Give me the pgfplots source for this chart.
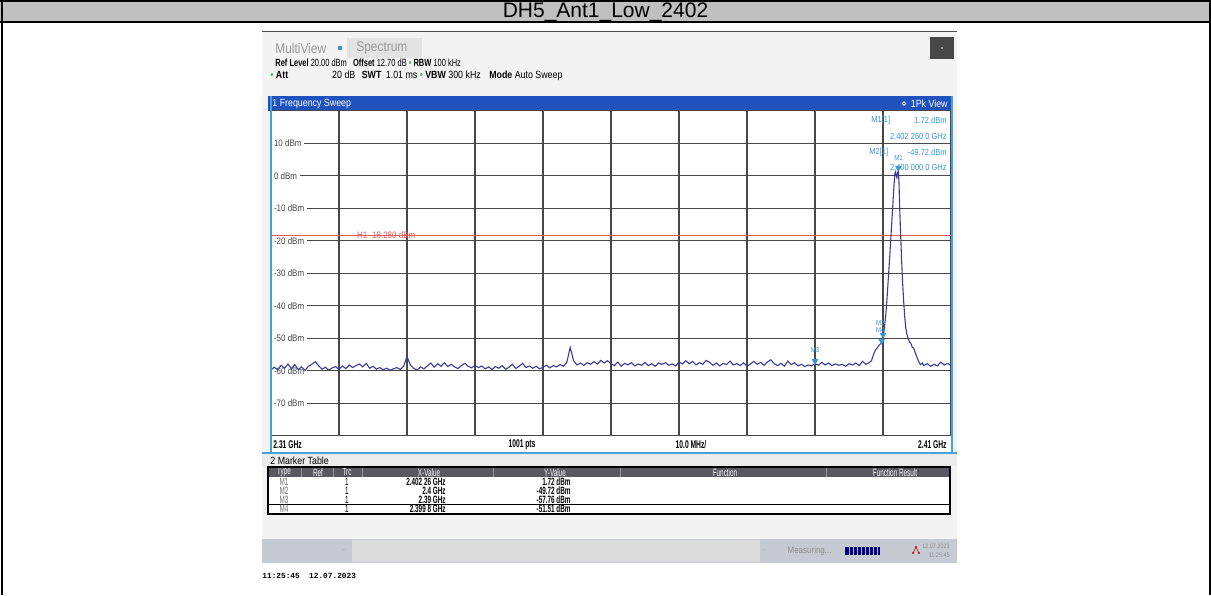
\documentclass[border=0pt]{standalone}
\usepackage{fontspec}
\setmainfont{Liberation Sans}
\newfontfamily\rsA[FakeStretch=0.85]{Liberation Sans}
\newfontfamily\rsB[FakeStretch=0.72]{Liberation Sans}
\newfontfamily\rsC[FakeStretch=0.6]{Liberation Sans}
\newfontfamily\rsmono{Liberation Mono}
\usepackage{pgfplots}
\usepackage{pgfplotstable}
\pgfplotsset{compat=1.18}

\definecolor{titlegray}{RGB}{192,192,192}
\definecolor{shotbg}{RGB}{243,243,243}
\definecolor{barblue}{RGB}{32,82,190}
\definecolor{edgeblue}{RGB}{70,160,220}
\definecolor{gridgray}{RGB}{72,72,72}
\definecolor{tracecol}{RGB}{60,60,155}
\definecolor{mkcol}{RGB}{55,150,210}
\definecolor{hred}{RGB}{228,90,90}
\definecolor{hdrgray}{RGB}{88,88,94}
\definecolor{statgray}{RGB}{198,202,210}
\definecolor{labgray}{RGB}{70,70,70}
\definecolor{softgray}{RGB}{150,150,150}
\definecolor{dotgreen}{RGB}{70,175,95}

\newcommand\hdr{\rsA\fontsize{5.2}{6}\selectfont}
\newcommand\lab{\rsA\fontsize{4.7}{5.5}\selectfont}
\newcommand\mk{\rsA\fontsize{4.4}{5}\selectfont}
\newcommand\cnd{\rsC\fontsize{5.3}{6.2}\selectfont}
\newcommand\gdot{\textcolor{dotgreen}{\textbullet}}

% trace 1, frequency in MHz, level in dBm
\pgfplotstableread{
f p
2310.0 -59.6
2310.5 -58.9
2311.0 -59.7
2311.5 -58.3
2312.0 -59.2
2312.5 -57.9
2313.0 -59.4
2313.5 -58.1
2314.0 -59.6
2314.5 -58.8
2315.0 -59.9
2315.5 -58.6
2316.0 -58.0
2316.5 -57.2
2317.0 -58.4
2317.5 -59.5
2318.0 -58.9
2318.5 -59.8
2319.0 -59.1
2319.5 -58.7
2320.0 -59.6
2320.5 -58.5
2321.0 -59.3
2321.5 -58.2
2322.0 -59.0
2322.5 -58.4
2323.0 -57.9
2323.5 -58.8
2324.0 -57.7
2324.5 -59.2
2325.0 -58.6
2325.5 -59.5
2326.0 -59.0
2326.5 -59.7
2327.0 -59.2
2327.5 -59.8
2328.0 -59.4
2328.5 -59.0
2329.0 -59.6
2329.5 -58.6
2330.0 -55.6
2330.5 -58.2
2331.0 -59.3
2331.5 -59.7
2332.0 -58.8
2332.5 -59.4
2333.0 -58.5
2333.5 -57.6
2334.0 -58.9
2334.5 -57.8
2335.0 -58.6
2335.5 -57.5
2336.0 -58.7
2336.5 -58.0
2337.0 -58.8
2337.5 -59.3
2338.0 -58.4
2338.5 -57.7
2339.0 -58.6
2339.5 -59.1
2340.0 -58.3
2340.5 -59.0
2341.0 -58.5
2341.5 -59.4
2342.0 -58.8
2342.5 -59.6
2343.0 -58.7
2343.5 -59.2
2344.0 -58.4
2344.5 -59.5
2345.0 -58.9
2345.5 -58.0
2346.0 -59.3
2346.5 -58.6
2347.0 -57.7
2347.5 -59.0
2348.0 -58.5
2348.5 -59.2
2349.0 -58.6
2349.5 -59.4
2350.0 -58.9
2350.5 -58.3
2351.0 -59.1
2351.5 -58.4
2352.0 -58.8
2352.5 -58.1
2353.0 -58.6
2353.5 -57.4
2354.0 -52.8
2354.5 -56.9
2355.0 -58.2
2355.5 -57.6
2356.0 -58.3
2356.5 -57.5
2357.0 -58.0
2357.5 -57.2
2358.0 -57.9
2358.5 -56.8
2359.0 -57.6
2359.5 -56.9
2360.0 -57.8
2360.5 -58.4
2361.0 -57.3
2361.5 -58.6
2362.0 -57.7
2362.5 -58.2
2363.0 -57.5
2363.5 -58.5
2364.0 -57.9
2364.5 -58.3
2365.0 -57.4
2365.5 -58.4
2366.0 -57.8
2366.5 -58.6
2367.0 -57.6
2367.5 -58.0
2368.0 -57.5
2368.5 -58.3
2369.0 -57.9
2369.5 -58.5
2370.0 -57.3
2370.5 -57.9
2371.0 -56.9
2371.5 -57.8
2372.0 -57.1
2372.5 -58.2
2373.0 -57.5
2373.5 -58.0
2374.0 -56.8
2374.5 -57.4
2375.0 -58.3
2375.5 -57.6
2376.0 -58.5
2376.5 -57.7
2377.0 -58.1
2377.5 -57.0
2378.0 -58.2
2378.5 -57.8
2379.0 -58.4
2379.5 -57.5
2380.0 -58.6
2380.5 -57.9
2381.0 -57.1
2381.5 -58.0
2382.0 -57.4
2382.5 -58.3
2383.0 -57.3
2383.5 -56.6
2384.0 -57.8
2384.5 -58.4
2385.0 -57.7
2385.5 -58.6
2386.0 -57.0
2386.5 -58.1
2387.0 -57.5
2387.5 -58.5
2388.0 -58.0
2388.5 -58.7
2389.0 -58.2
2389.5 -58.5
2390.0 -57.76
2390.5 -58.3
2391.0 -57.4
2391.5 -58.2
2392.0 -57.6
2392.5 -58.4
2393.0 -57.9
2393.5 -58.3
2394.0 -58.0
2394.5 -58.6
2395.0 -57.8
2395.5 -58.2
2396.0 -57.6
2396.5 -58.4
2397.0 -57.1
2397.5 -58.0
2398.0 -57.4
2398.3 -56.9
2398.6 -55.0
2398.9 -53.6
2399.2 -52.8
2399.5 -51.9
2399.8 -51.51
2400.0 -49.72
2400.2 -47.0
2400.4 -43.0
2400.6 -37.5
2400.8 -31.0
2401.0 -24.5
2401.2 -17.5
2401.4 -10.5
2401.6 -3.5
2401.75 0.8
2401.85 1.2
2401.95 0.0
2402.05 -0.6
2402.15 0.9
2402.26 1.72
2402.35 -2.0
2402.45 -9.5
2402.6 -18.5
2402.75 -26.5
2402.9 -33.5
2403.05 -39.0
2403.2 -43.5
2403.35 -46.8
2403.5 -48.6
2403.7 -50.0
2403.9 -51.2
2404.1 -51.6
2404.3 -52.7
2404.5 -53.0
2404.7 -54.2
2404.9 -55.3
2405.2 -57.0
2405.5 -58.1
2405.8 -57.6
2406.0 -58.4
2406.5 -57.8
2407.0 -58.6
2407.5 -58.0
2408.0 -58.5
2408.5 -57.3
2409.0 -58.2
2409.5 -57.7
2410.0 -58.4
}\tracedata

\begin{document}
\begin{tikzpicture}
\begin{scope}[x=0.5pt,y=-0.5pt]
  \useasboundingbox (0,0) rectangle (1211,595);
  \fill[white] (0,0) rectangle (1211,595);
  % title bar
  \fill[titlegray] (0,0) rectangle (1211,22);
  \draw[black,line width=1pt] (0,1) -- (1211,1);
  \draw[black,line width=1pt] (0,22) -- (1211,22);
  \draw[black,line width=1pt] (1.5,0) -- (1.5,595);
  \draw[black,line width=1pt] (1209.5,0) -- (1209.5,595);
  \node[anchor=base,font=\fontsize{10.5}{12}\selectfont,inner sep=0pt] at (605.5,17.2) {DH5\_Ant1\_Low\_2402};
  % screenshot background
  \fill[shotbg] (262,31) rectangle (957,563);
  \fill[black!70] (262,31) rectangle (957,32);
  % tabs
  \node[anchor=west,font=\rsA\fontsize{7}{8}\selectfont,text=softgray,inner sep=0pt] at (275,48) {MultiView};
  \fill[mkcol] (338,46) rectangle (342,50);
  \fill[black!11] (347,38) rectangle (422,58);
  \node[anchor=west,font=\rsA\fontsize{7}{8}\selectfont,text=softgray,inner sep=0pt] at (356,48) {Spectrum};
  \fill[black!72] (930,37) rectangle (954,59);
  \fill[white] (942,48) circle (0.8);
  % settings rows
  \node[anchor=west,font=\rsB\fontsize{5.2}{6}\selectfont,inner sep=0pt] at (275,63)
    {\textbf{Ref Level} 20.00 dBm\hspace{2pt} \textbf{Offset} 12.70 dB \gdot\ \textbf{RBW} 100 kHz};
  \node[anchor=west,font=\hdr,inner sep=0pt] at (270,76)
    {\gdot\ \textbf{Att}\hspace{22pt}20 dB\hspace{2pt} \textbf{SWT}\hspace{1pt} 1.01 ms \gdot\ \textbf{VBW} 300 kHz\hspace{3pt} \textbf{Mode} Auto Sweep};
  % window title bar
  \fill[barblue] (268,96) rectangle (952,111);
  \node[anchor=west,font=\hdr,text=white,inner sep=0pt] at (272,103.5) {1 Frequency Sweep};
  \draw[white,line width=0.4pt] (904,103.5) circle (1.8);
  \node[anchor=east,font=\hdr,text=white,inner sep=0pt] at (948,103.5) {1Pk View};
  % plot background and label row
  \fill[white] (271,110.8) rectangle (951,452);
  \coordinate (plotnw) at (271,110.8);
\end{scope}

\begin{axis}[
  at={(plotnw)}, anchor=north west,
  width=340pt, height=162.5pt, scale only axis,
  xmin=2310, xmax=2410, ymin=-80, ymax=20,
  xtick={2320,2330,...,2400}, ytick={-70,-60,...,10},
  xticklabels={}, yticklabels={},
  major tick length=0pt,
  grid=major,
  major grid style={gridgray, line width=0.6pt},
  axis line style={gridgray, line width=0.6pt},
  clip=false,
]
% display line H1
\addplot[hred, line width=0.45pt] coordinates {(2310,-18.28) (2410,-18.28)};
\node[anchor=west, text=hred, font=\lab, inner sep=0pt] at (axis cs:2322.6,-18.28) {H1 -18.280 dBm};
% level labels
\foreach \v/\t in {10/10 dBm,0/0 dBm,-10/-10 dBm,-20/-20 dBm,-30/-30 dBm,-40/-40 dBm,-50/-50 dBm,-60/-60 dBm,-70/-70 dBm}{
  \edef\temp{\noexpand\node[anchor=west, fill=white, text=labgray, font=\noexpand\lab, inner xsep=1.3pt, inner ysep=0.6pt] at (axis cs:2310,\v) {\t};}
  \temp
}
% trace
\addplot[tracecol, line width=0.55pt] table[x=f, y=p] {\tracedata};
% markers
\addplot[only marks, mark=triangle*, mark size=1.5pt,
  mark options={yshift=1.2pt, rotate=180, fill=mkcol, draw=mkcol}]
  coordinates {(2402.26,1.72) (2400,-49.72) (2390,-57.76) (2399.8,-51.51)};
\node[text=mkcol, font=\rsA\fontsize{3.6}{4}\selectfont, inner sep=0pt] at (axis cs:2390,-53.6) {M3};
\node[text=mkcol, font=\rsA\fontsize{3.6}{4}\selectfont, inner sep=0pt] at (axis cs:2399.6,-45.4) {M2};
\node[text=mkcol, font=\rsA\fontsize{3.6}{4}\selectfont, inner sep=0pt] at (axis cs:2399.6,-47.6) {M4};
\node[text=mkcol, font=\rsA\fontsize{3.6}{4}\selectfont, inner sep=0pt] at (axis cs:2402.3,5.6) {M1};
\end{axis}

\begin{scope}[x=0.5pt,y=-0.5pt]
  % side edges of the sweep window
  \draw[edgeblue,line width=1pt] (270.5,96) -- (270.5,452);
  \draw[edgeblue,line width=1pt] (951.5,96) -- (951.5,452);
  \draw[edgeblue,line width=1pt] (262,452.5) -- (957,452.5);
  % marker readout
  \node[anchor=west,font=\mk,text=mkcol,inner sep=0pt] at (871,120) {M1[1]};
  \node[anchor=east,font=\mk,text=mkcol,inner sep=0pt] at (947,120) {1.72 dBm};
  \node[anchor=east,font=\mk,text=mkcol,inner sep=0pt] at (947,136.5) {2.402 260 0 GHz};
  \node[anchor=west,font=\mk,text=mkcol,inner sep=0pt] at (869,152) {M2[1]};
  \node[anchor=east,font=\mk,text=mkcol,inner sep=0pt] at (947,152) {-49.72 dBm};
  \node[anchor=east,font=\mk,text=mkcol,inner sep=0pt] at (947,167) {2.400 000 0 GHz};
  % footer of the diagram
  \node[anchor=west,font=\rsC\bfseries\fontsize{5.6}{6.5}\selectfont,inner sep=0pt] at (273,444.5) {2.31 GHz};
  \node[font=\rsC\bfseries\fontsize{5.6}{6.5}\selectfont,inner sep=0pt] at (522,444.5) {1001 pts};
  \node[font=\rsC\bfseries\fontsize{5.6}{6.5}\selectfont,inner sep=0pt] at (691,444.5) {10.0 MHz/};
  \node[anchor=east,font=\rsC\bfseries\fontsize{5.6}{6.5}\selectfont,inner sep=0pt] at (947,444.5) {2.41 GHz};
  % marker table
  \fill[black!8] (262,454) rectangle (957,466);
  \node[anchor=west,font=\hdr,inner sep=0pt] at (270,460.5) {2 Marker Table};
  \fill[white] (268,467) rectangle (950,514);
  \fill[hdrgray] (268,467) rectangle (950,477);
  \foreach \sx in {301,333,362,493,620,826}{
    \draw[black!40,line width=0.4pt] (\sx,467) -- (\sx,477);
  }
  \foreach \cx/\ct in {284/Type,318/Ref,347/Trc,429/X-Value,555/Y-Value,725/Function,895/Function Result}{
    \node[font=\cnd,text=white,inner sep=0pt] at (\cx,472.3) {\ct};
  }
  \draw[black,line width=0.5pt] (268,504.5) -- (950,504.5);
  \draw[black,line width=1pt] (268,467) rectangle (950,514);
  \foreach \ry/\m/\xv/\yv in {481.5/M1/2.402 26 GHz/1.72 dBm,490.5/M2/2.4 GHz/-49.72 dBm,499.5/M3/2.39 GHz/-57.76 dBm,509/M4/2.399 8 GHz/-51.51 dBm}{
    \node[font=\cnd,text=black!55,inner sep=0pt] at (284,\ry) {\m};
    \node[font=\cnd,inner sep=0pt] at (347,\ry) {1};
    \node[anchor=east,font=\cnd\bfseries,inner sep=0pt] at (446,\ry) {\xv};
    \node[anchor=east,font=\cnd\bfseries,inner sep=0pt] at (571,\ry) {\yv};
  }
  % status bar
  \fill[statgray] (262,539) rectangle (957,563);
  \fill[black!14] (352,540) rectangle (760,562);
  \node[font=\lab,text=black!30,inner sep=0pt] at (344,551) {-};
  \node[font=\lab,text=black!30,inner sep=0pt] at (764,551) {-};
  \node[anchor=east,font=\lab,text=black!45,inner sep=0pt] at (832,551) {Measuring...};
  \fill[blue!45!black] (845,547) rectangle (880,555);
  \foreach \px in {849,853,...,877}{ \draw[white!70!blue,line width=0.3pt] (\px,547) -- (\px,555); }
  \fill[red!80!black] (916,547) circle (1.2);
  \fill[red!80!black] (913,553) circle (1.2);
  \fill[red!80!black] (919,553) circle (1.2);
  \draw[red!80!black,line width=0.3pt] (916,547) -- (913,553) (916,547) -- (919,553);
  \node[anchor=east,font=\rsA\fontsize{3.2}{3.6}\selectfont,text=black!45,inner sep=0pt] at (950,546) {12.07.2023};
  \node[anchor=east,font=\rsA\fontsize{3.2}{3.6}\selectfont,text=black!45,inner sep=0pt] at (950,555) {11:25:45};
  % time stamp under the screenshot
  \node[anchor=west,font=\rsmono\bfseries\fontsize{3.9}{4.5}\selectfont,inner sep=0pt] at (262,576) {11:25:45\ \ 12.07.2023};
\end{scope}
\end{tikzpicture}
\end{document}
